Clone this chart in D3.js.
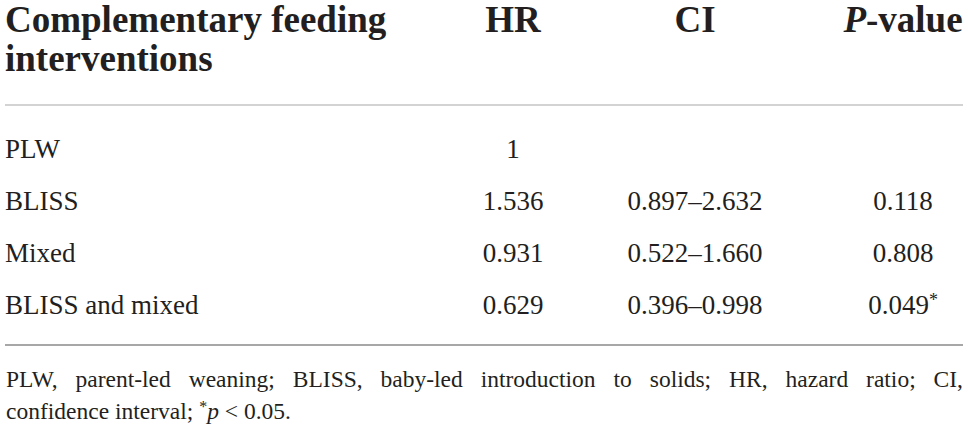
<!DOCTYPE html>
<html>
<head>
<meta charset="utf-8">
<script src="https://cdn.jsdelivr.net/npm/d3@7"></script>
<style>
  body { margin: 0; background: #fff; }
  text { font-family: "Liberation Serif", "DejaVu Serif", serif; fill: #231f20; }
</style>
</head>
<body>
<script>
// table contents
var groups = ["PLW", "BLISS", "Mixed", "BLISS and mixed"];
var hrValues = ["1", "1.536", "0.931", "0.629"];
var ciValues = ["", "0.897\u20132.632", "0.522\u20131.660", "0.396\u20130.998"];
var pValues = ["", "0.118", "0.808", "0.049"];
var significant = [false, false, false, true];
var headerLines = ["Complementary feeding", "interventions"];
var footLine1 = "PLW, parent-led weaning; BLISS, baby-led introduction to solids; HR, hazard ratio; CI,";

var width = 968, height = 436,
    left = 5, right = 963;

var svg = d3.select("body").append("svg")
    .attr("width", width)
    .attr("height", height);

// row baselines
var y = d3.scaleLinear().domain([0, groups.length - 1]).range([158, 314]);

// column centers
var colX = { hr: 513, ci: 695, p: 903 };

// header
var head = svg.append("g").attr("font-weight", "bold").attr("font-size", "37px");
head.selectAll(".h1")
    .data(headerLines)
    .enter()
    .append("text")
      .attr("x", left)
      .attr("y", function(d, i) { return 32 + i * 39; })
      .text(function(d) { return d; });

head.append("text").attr("x", colX.hr).attr("y", 32).attr("text-anchor", "middle").text("HR");
head.append("text").attr("x", colX.ci).attr("y", 32).attr("text-anchor", "middle").text("CI");
var ph = head.append("text").attr("x", colX.p).attr("y", 32).attr("text-anchor", "middle");
ph.append("tspan").attr("font-style", "italic").text("P");
ph.append("tspan").text("-value");

// rules
svg.append("line")
    .attr("x1", left).attr("x2", right).attr("y1", 105).attr("y2", 105)
    .attr("stroke", "#c4c4c4").attr("stroke-width", 1.5);
svg.append("line")
    .attr("x1", left).attr("x2", right).attr("y1", 345).attr("y2", 345)
    .attr("stroke", "#8a8a8a").attr("stroke-width", 1.3);

// body rows
var body = svg.append("g").attr("font-size", "27px");

body.selectAll(".grp")
    .data(groups)
    .enter()
    .append("text")
      .attr("x", left)
      .attr("y", function(d, i) { return y(i); })
      .text(function(d) { return d; });

body.selectAll(".hr")
    .data(hrValues)
    .enter()
    .append("text")
      .attr("x", colX.hr)
      .attr("y", function(d, i) { return y(i); })
      .attr("text-anchor", "middle")
      .text(function(d) { return d; });

body.selectAll(".ci")
    .data(ciValues)
    .enter()
    .append("text")
      .attr("x", colX.ci)
      .attr("y", function(d, i) { return y(i); })
      .attr("text-anchor", "middle")
      .text(function(d) { return d; });

var pt = body.selectAll(".pv")
    .data(pValues)
    .enter()
    .append("text")
      .attr("x", colX.p)
      .attr("y", function(d, i) { return y(i); })
      .attr("text-anchor", "middle");
pt.append("tspan").text(function(d) { return d; });
pt.filter(function(d, i) { return significant[i]; })
    .append("tspan")
      .attr("font-size", "18px")
      .attr("dy", "-8")
      .text("*");

// footnote (first line justified by word spacing)
var foot = svg.append("g").attr("font-size", "23.5px");
var f1 = foot.append("text")
    .attr("x", left + 1)
    .attr("y", 387)
    .text(footLine1);
var natural = f1.node().getComputedTextLength(),
    gaps = footLine1.split(" ").length - 1;
f1.attr("word-spacing", Math.max(0, (right - left - 1 - natural) / gaps));

var f2 = foot.append("text").attr("x", left + 1).attr("y", 419);
f2.append("tspan").text("confidence interval; ");
f2.append("tspan").attr("font-size", "16px").attr("dy", "-7").text("*");
f2.append("tspan").attr("font-style", "italic").attr("dy", "7").text("p");
f2.append("tspan").text(" < 0.05.");
</script>
</body>
</html>
